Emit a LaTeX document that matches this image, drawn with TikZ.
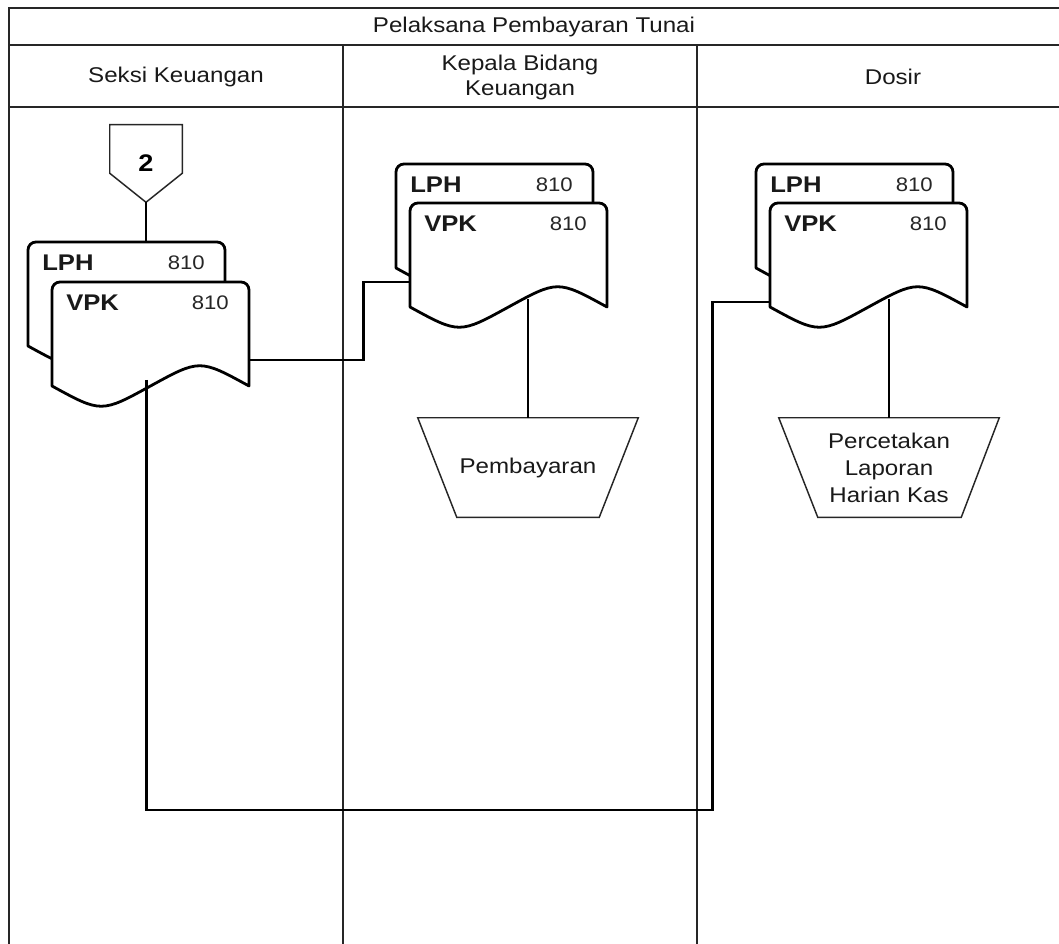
\documentclass[tikz,border=0pt]{standalone}
\usepackage{fontspec}
\setmainfont{Liberation Sans}[FakeStretch=1.13]
\usetikzlibrary{calc}

\tikzset{
  frameline/.style={line width=1.1pt, draw=black!85},
  laneline/.style={line width=0.9pt, draw=black!85},
  docline/.style={line width=2.1pt, draw=black, fill=white, line join=round},
  docbody/.style={minimum width=147.75pt, minimum height=91.5pt, inner sep=0pt, draw=none},
  conn/.style={line width=2.2pt, draw=black},
  lanetitle/.style={font=\fontsize{16}{18.75}\selectfont, align=center, text=black!90, inner sep=0pt},
  doclabel/.style={font=\bfseries\fontsize{17}{20}\selectfont, inner sep=0pt, text=black!90},
  docnum/.style={font=\fontsize{14.7}{17}\selectfont, inner sep=0pt, text=black!85},
  procbox/.style={minimum width=165pt, minimum height=74.25pt, inner sep=0pt, align=center,
    font=\fontsize{16}{20.25}\selectfont, text=black!90},
  procline/.style={line width=1.1pt, draw=black!85},
  offbox/.style={minimum width=54pt, minimum height=57.75pt, inner sep=0pt,
    font=\bfseries\fontsize{18}{20}\selectfont},
}

% document sheet: name, left, top, label
\newcommand\docsheet[4]{%
  \draw[docline] (#2,#3+104) -- (#2,#3+8)
    arc[start angle=180,end angle=270,radius=8] -- (#2+189,#3)
    arc[start angle=270,end angle=360,radius=8] -- (#2+197,#3+104)
    .. controls (#2+147.75,#3+77) .. (#2+98.5,#3+104)
    .. controls (#2+49.25,#3+131) .. (#2,#3+104) -- cycle;
  \node[docbody] (#1) at (#2+98.5,#3+61) {};
  \node[doclabel, anchor=west] (#1-name) at (#2+14,#3+21) {#4};
  \node[docnum, anchor=east] (#1-num) at (#2+177,#3+21) {810};
}

\begin{document}
\begin{tikzpicture}[x=0.75pt, y=-0.75pt]
\useasboundingbox (0,0) rectangle (1059,944);

% pool and lanes
\draw[frameline] (9,944) -- (9,8) -- (1059,8);
\draw[frameline] (9,45) -- (1059,45);
\draw[frameline] (9,107) -- (1059,107);
\draw[laneline] (343,45) -- (343,944);
\draw[laneline] (697,45) -- (697,944);

\node[lanetitle] (pool) at (534,27) {Pelaksana Pembayaran Tunai};
\node[lanetitle] (h1) at (176,77) {Seksi Keuangan};
\node[lanetitle] (h2) at (520,77) {Kepala Bidang\\Keuangan};
\node[lanetitle] (h3) at (893,77) {Dosir};

% off-page connector
\node[offbox] (off2) at (146,163.5) {2};
\draw[procline] (off2.north west) -- (off2.north east)
  -- ($(off2.south east)+(0,-29)$) -- (off2.south)
  -- ($(off2.south west)+(0,-29)$) -- cycle;

% documents
\docsheet{lph1}{28}{242}{LPH}
\docsheet{vpk1}{52}{282}{VPK}
\docsheet{lph2}{396}{164}{LPH}
\docsheet{vpk2}{410}{203}{VPK}
\docsheet{lph3}{756}{164}{LPH}
\docsheet{vpk3}{770}{203}{VPK}

% manual operations
\node[procbox] (pay) at (528,467.5) {Pembayaran};
\draw[procline] (pay.north west) -- (pay.north east)
  -- ($(pay.south east)+(-39,0)$) -- ($(pay.south west)+(39,0)$) -- cycle;
\node[procbox] (lhk) at (889,467.5) {Percetakan\\Laporan\\Harian Kas};
\draw[procline] (lhk.north west) -- (lhk.north east)
  -- ($(lhk.south east)+(-38,0)$) -- ($(lhk.south west)+(39,0)$) -- cycle;

% connectors
\coordinate (vpk1-out) at ($(vpk1.center)+(-4,37)$);
\coordinate (vpk2-out) at ($(vpk2.center)+(0,35)$);
\coordinate (vpk3-out) at ($(vpk3.center)+(0,35)$);

\draw[conn] (off2.south) -- (off2.south |- lph1.north);
\draw[conn] ($(vpk1.east)+(0,17)$) -- ++(114,0) |- ($(vpk2.west)+(0,18)$);
\draw[conn] (vpk1-out) -- ++(0,430) -| ($(vpk3.west)+(-57,38)$) -- ($(vpk3.west)+(0,38)$);
\draw[conn] (pay.north |- vpk2-out) -- (pay.north);
\draw[conn] (lhk.north |- vpk3-out) -- (lhk.north);
\end{tikzpicture}
\end{document}
